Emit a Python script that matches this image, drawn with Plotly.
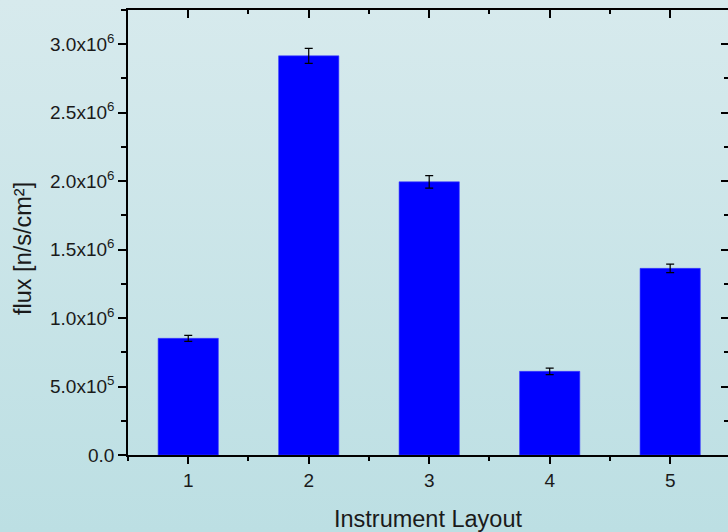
import base64
import plotly.graph_objects as go

# ---- data ----
layouts = [1, 2, 3, 4, 5]
flux = [852000, 2915000, 1995000, 611000, 1363000]
flux_err = [22000, 55000, 46000, 24000, 31000]

y_tick_vals = [0, 500000, 1000000, 1500000, 2000000, 2500000, 3000000]
y_tick_text = ["0.0", "5.0x10<sup>5</sup>", "1.0x10<sup>6</sup>", "1.5x10<sup>6</sup>",
               "2.0x10<sup>6</sup>", "2.5x10<sup>6</sup>", "3.0x10<sup>6</sup>"]
x_tick_vals = [1, 2, 3, 4, 5]
x_tick_text = ["1", "2", "3", "4", "5"]
x_title = "Instrument Layout"
y_title = "flux [n/s/cm²]"

# ---- geometry ----
W, H = 728, 532
ML, MR, MT, MB = 128, 0, 10, 77
PW, PH = W - ML - MR, H - MT - MB
XR = [0.5, 5.48]
YR = [0, 3250000]

FONT = "Liberation Sans, Arial, sans-serif"

# gradient background as svg data uri
svg = ('<svg xmlns="http://www.w3.org/2000/svg" width="100" height="100" preserveAspectRatio="none">'
       '<defs><linearGradient id="g" x1="0" y1="0" x2="0" y2="1">'
       '<stop offset="0" stop-color="#d7eaed"/><stop offset="1" stop-color="#bcdfe3"/>'
       '</linearGradient></defs><rect width="100" height="100" fill="url(#g)"/></svg>')
bg_src = "data:image/svg+xml;base64," + base64.b64encode(svg.encode()).decode()

fig = go.Figure()
fig.add_trace(go.Bar(
    x=layouts, y=flux, width=0.5,
    marker=dict(color="#0000ff", line=dict(color="#3a3aff", width=0.6)),
    error_y=dict(type="data", array=flux_err, visible=True, color="black", thickness=1.2, width=4),
    hoverinfo="skip", showlegend=False,
))
# dummy trace so the mirrored (inside-tick) axes get drawn
fig.add_trace(go.Scatter(x=[1], y=[0], xaxis="x2", yaxis="y2", mode="markers",
                         marker=dict(opacity=0), hoverinfo="skip", showlegend=False))

axis_common = dict(showgrid=False, zeroline=False, showline=True, linecolor="black",
                   linewidth=1.5, tickcolor="black", tickwidth=1.5)

fig.update_layout(
    width=W, height=H,
    margin=dict(l=ML, r=MR, t=MT, b=MB, pad=0),
    paper_bgcolor="#c9e5e8",
    plot_bgcolor="rgba(0,0,0,0)",
    font=dict(family=FONT, color="#1a1a1a", size=19),
    bargap=0.5,
    xaxis=dict(
        **axis_common, range=XR, tickmode="array", tickvals=x_tick_vals, ticktext=x_tick_text,
        ticks="outside", ticklen=7, tickfont=dict(size=19, family=FONT),
        minor=dict(dtick=0.5, tick0=0.5, ticks="outside", ticklen=4, tickcolor="black", tickwidth=1.5),
        title=dict(text=x_title, font=dict(size=23.5, family=FONT), standoff=24),
    ),
    yaxis=dict(
        **axis_common, range=YR, tickmode="array", tickvals=y_tick_vals, ticktext=y_tick_text,
        ticks="outside", ticklen=8, tickfont=dict(size=19, family=FONT),
        minor=dict(dtick=250000, tick0=0, ticks="outside", ticklen=5, tickcolor="black", tickwidth=1.5),
    ),
    xaxis2=dict(
        **axis_common, overlaying="x", side="top", range=XR, tickmode="array",
        tickvals=x_tick_vals, ticks="inside", ticklen=8, showticklabels=False,
        minor=dict(dtick=0.5, tick0=0.5, ticks="inside", ticklen=4, tickcolor="black", tickwidth=1.5),
    ),
    yaxis2=dict(
        **axis_common, overlaying="y", side="right", range=YR, tickmode="array",
        tickvals=y_tick_vals, ticks="inside", ticklen=7, showticklabels=False,
        minor=dict(dtick=250000, tick0=0, ticks="inside", ticklen=4, tickcolor="black", tickwidth=1.5),
    ),
    annotations=[dict(
        text=y_title, textangle=-90, showarrow=False,
        xref="paper", yref="paper",
        x=(23 - ML) / PW, y=(H - MB - 249) / PH,
        xanchor="center", yanchor="middle",
        font=dict(size=23.5, family=FONT, color="#1a1a1a"),
    )],
    images=[dict(
        source=bg_src, xref="paper", yref="paper",
        x=-ML / PW, y=1 + MT / PH, sizex=W / PW, sizey=H / PH,
        xanchor="left", yanchor="top", sizing="stretch", layer="below",
    )],
)

fig.write_html(
    "out.html",
    config={"displayModeBar": False},
    post_script="document.body.style.margin='0';document.body.style.overflow='hidden';",
)
